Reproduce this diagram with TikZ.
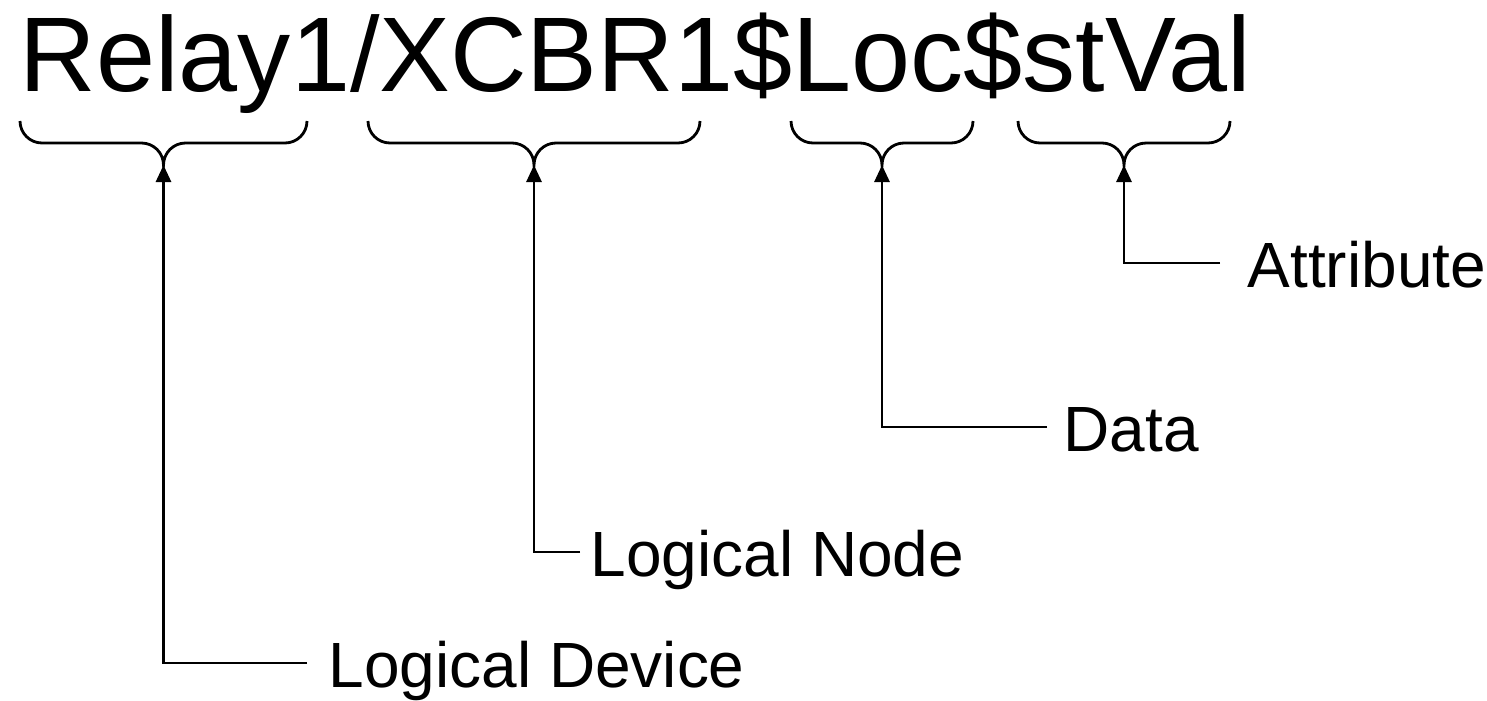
\documentclass[tikz,border=0pt]{standalone}
\usepackage{fontspec}
\setmainfont{Liberation Sans}
\usetikzlibrary{arrows.meta}
\newcommand\drawbrace[2]{\draw[brs] (#1,5.79) arc[start angle=180,end angle=270,radius=0.22] -- ({(#1+#2)/2-0.22},5.57) arc[start angle=90,end angle=0,radius=0.22] arc[start angle=180,end angle=90,radius=0.22] -- ({#2-0.22},5.57) arc[start angle=270,end angle=360,radius=0.22];}
\begin{document}
\begin{tikzpicture}[
  brs/.style={line width=0.8pt},
  conn/.style={line width=0.8pt, -{Triangle[length=0.17cm,width=0.15cm]}},
  lab/.style={font=\fontsize{18.2}{22}\selectfont, anchor=west, inner ysep=0pt, text height=0.5cm, text depth=0.02cm},
]
\useasboundingbox (0,0) rectangle (14.87,7);
\node[anchor=base west, inner sep=0pt, font=\fontsize{30.2}{36}\selectfont] (title) at (0.19,6.09) {Relay1/XCBR1\$Loc\$stVal};
\drawbrace{0.20}{3.07}
\drawbrace{3.68}{7.00}
\drawbrace{7.91}{9.73}
\drawbrace{10.18}{12.30}
\coordinate (t1) at (1.635,5.35);
\coordinate (t2) at (5.34,5.35);
\coordinate (t3) at (8.82,5.35);
\coordinate (t4) at (11.24,5.35);
\node[lab, inner xsep=0.21cm] (ld) at (3.07,0.37) {Logical Device};
\node[lab, inner xsep=0.10cm] (ln) at (5.80,1.48) {Logical Node};
\node[lab, inner xsep=0.16cm] (da) at (10.47,2.73) {Data};
\node[lab, inner xsep=0.27cm] (attr) at (12.20,4.37) {Attribute};
\draw[conn] (ld.west) -| (t1);
\draw[conn] (ln.west) -| (t2);
\draw[conn] (da.west) -| (t3);
\draw[conn] (attr.west) -| (t4);
\end{tikzpicture}
\end{document}
